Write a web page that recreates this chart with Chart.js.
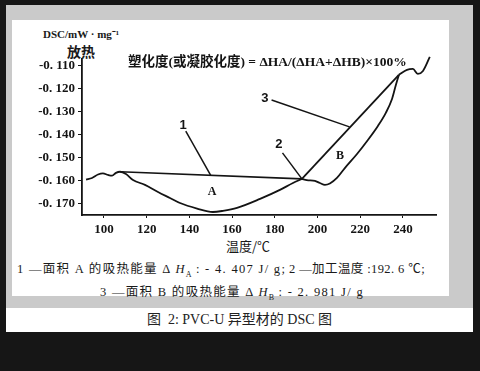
<!DOCTYPE html>
<html>
<head>
<meta charset="utf-8">
<script src="https://cdn.jsdelivr.net/npm/chart.js@4/dist/chart.umd.min.js"></script>
<style>
  html, body { margin: 0; padding: 0; }
  body { width: 480px; height: 371px; background: #161616; position: relative; overflow: hidden;
         font-family: 'Liberation Serif', 'Noto Sans CJK SC', serif; color: #1a1a1a; }
  .frame { position: absolute; left: 6px; top: 5px; width: 467px; height: 303px; background: #cacaca; }
  .inner { position: absolute; left: 12px; top: 20px; width: 437px; height: 276px; background: #fff; }
  .chartbox { position: absolute; left: 12px; top: 20px; width: 437px; height: 276px; }
  .caption { position: absolute; left: 6px; top: 308px; width: 467px; height: 24px; background: #fff;
             text-align: center; font-size: 14px; line-height: 24px; color: #222; }
  .t { position: absolute; white-space: nowrap; }
  .fn { font-size: 12.5px; letter-spacing: 1.3px; }
  sub { font-size: 8px; letter-spacing: 0; }
</style>
</head>
<body>
<div class="frame"></div>
<div class="inner"></div>
<div class="t" style="left:43px; top:26px; font-size:11px; font-weight:bold;">DSC/mW · mg⁻¹</div>
<div class="t" style="left:67px; top:41px; font-size:14px; font-family:'Noto Sans CJK SC'; font-weight:bold;">放热</div>
<div class="t" style="left:226px; top:236px; font-size:13px; font-family:'Noto Sans CJK SC';">温度/℃</div>
<div class="t fn" style="left:17px; top:258px;">1 —面积 A 的吸热能量 Δ <i>H</i><sub>A</sub> : - 4. 407 J/ g;</div>
<div class="t fn" style="left:289px; top:258px; letter-spacing:0.4px;">2 —加工温度 :192. 6 ℃;</div>
<div class="t fn" style="left:100px; top:281px;">3 —面积 B 的吸热能量 Δ <i>H</i><sub>B</sub> : - 2. 981 J/ g</div>
<div class="chartbox"><canvas id="c" width="437" height="276"></canvas></div>
<div class="caption">图&nbsp; 2: PVC-U 异型材的 DSC 图</div>
<script>
// ---- data (temperature °C, DSC mW/mg) ----
const xTicks = [100, 120, 140, 160, 180, 200, 220, 240];
const yTicks = [-0.17, -0.16, -0.15, -0.14, -0.13, -0.12, -0.11];
const yTickLabels = ['-0. 170', '-0. 160', '-0. 150', '-0. 140', '-0. 130', '-0. 120', '-0. 110'];

// DSC curve: from start through trough A up to point 2
const curveAX = [91.6, 94.4, 97.2, 99.5, 101.9, 103.8, 105.6, 107.5, 110.3, 113.6, 119.2, 125.3, 130.9, 135.6, 143.6, 151.0, 155.7, 162.3, 173.1, 182.4, 188.5, 192.7];
const curveAY = [-0.1594, -0.1587, -0.1572, -0.1567, -0.1574, -0.1577, -0.1565, -0.1560, -0.1570, -0.1596, -0.1617, -0.1648, -0.1674, -0.1696, -0.1720, -0.1735, -0.1730, -0.1717, -0.1678, -0.1639, -0.1609, -0.1591];
// straight line from point 2 to upper junction
const line3X = [192.7, 238.1];
const line3Y = [-0.1591, -0.1139];
// baseline of area A
const baseX = [107.5, 192.7];
const baseY = [-0.1560, -0.1591];
// curve bounding area B
const curveBX = [192.7, 195.0, 198.8, 201.1, 203.5, 205.8, 209.1, 212.8, 218.5, 223.6, 228.3, 232.0, 234.9, 236.7, 238.1];
const curveBY = [-0.1591, -0.1596, -0.1600, -0.1609, -0.1617, -0.1611, -0.1587, -0.1544, -0.1483, -0.1422, -0.1361, -0.1304, -0.1244, -0.1183, -0.1139];
// tail after junction
const tailX = [238.1, 241.9, 244.7, 247.0, 249.4, 252.6];
const tailY = [-0.1139, -0.1117, -0.1113, -0.1135, -0.1122, -0.1061];
// leader lines
const lead1X = [138.3, 150.0], lead1Y = [-0.1383, -0.1576];
const lead2X = [183.6, 192.7], lead2Y = [-0.1478, -0.1591];
const lead3X = [178.5, 215.0], lead3Y = [-0.1248, -0.1365];
// labels
const labelText = ['1', '2', '3', 'A', 'B'];
const labelX = [137.0, 181.9, 175.4, 150.6, 210.5];
const labelY = [-0.1357, -0.1443, -0.1243, -0.1648, -0.1491];
const formulaText = '塑化度(或凝胶化度) = ΔHA/(ΔHA+ΔHB)×100%';
const formulaX = 176.5, formulaY = -0.1087;

const pts = (xs, ys) => xs.map((x, i) => ({ x: x, y: ys[i] }));
const ink = '#141414';
function ds(xs, ys, width, smooth) {
  return { data: pts(xs, ys), borderColor: ink, borderWidth: width, pointRadius: 0, fill: false,
           tension: 0, cubicInterpolationMode: smooth ? 'monotone' : 'default', clip: false };
}

const textPlugin = {
  id: 'texts',
  afterDatasetsDraw(chart) {
    const { ctx, scales: { x, y } } = chart;
    ctx.save();
    ctx.fillStyle = ink;
    ctx.textAlign = 'center';
    ctx.textBaseline = 'middle';
    labelText.forEach((t, i) => {
      ctx.font = (t === 'A' || t === 'B') ? 'bold 12px "Liberation Serif"' : 'bold 13px "Liberation Sans"';
      ctx.fillText(t, x.getPixelForValue(labelX[i]), y.getPixelForValue(labelY[i]));
    });
    ctx.font = 'bold 13.5px "Liberation Serif", "Noto Sans CJK SC"';
    ctx.fillText(formulaText, x.getPixelForValue(formulaX), y.getPixelForValue(formulaY));
    ctx.restore();
  }
};

const tickFont = { family: 'Liberation Serif', size: 13, weight: 'bold' };
new Chart(document.getElementById('c'), {
  type: 'line',
  data: {
    datasets: [
      ds(curveAX, curveAY, 1.8, true),
      ds(line3X, line3Y, 1.8, false),
      ds(baseX, baseY, 1.6, false),
      ds(curveBX, curveBY, 1.8, true),
      ds(tailX, tailY, 1.8, true),
      ds(lead1X, lead1Y, 1.5, false),
      ds(lead2X, lead2Y, 1.5, false),
      ds(lead3X, lead3Y, 1.5, false)
    ]
  },
  options: {
    responsive: false,
    animation: false,
    events: [],
    layout: { padding: { left: 10, right: 13, top: 39, bottom: 51 } },
    plugins: { legend: { display: false }, tooltip: { enabled: false } },
    scales: {
      x: {
        type: 'linear', min: 89.7, max: 255.5,
        afterBuildTicks: s => { s.ticks = xTicks.map(v => ({ value: v })); },
        afterFit: s => { s.height = 30; },
        ticks: { color: ink, font: tickFont, padding: 4, maxRotation: 0, autoSkip: false,
                 callback: v => String(v) },
        grid: { drawOnChartArea: false, drawTicks: true, tickLength: 3, color: ink, lineWidth: 1 },
        border: { color: ink, width: 1.8 }
      },
      y: {
        type: 'linear', min: -0.1748, max: -0.1070,
        afterBuildTicks: s => { s.ticks = yTicks.map(v => ({ value: v })); },
        afterFit: s => { s.width = 60; },
        ticks: { color: ink, font: tickFont, padding: 3, autoSkip: false,
                 callback: (v) => { const i = yTicks.findIndex(t => Math.abs(t - v) < 1e-6); return i >= 0 ? yTickLabels[i] : ''; } },
        grid: { drawOnChartArea: false, drawTicks: true, tickLength: 4, color: ink, lineWidth: 1 },
        border: { color: ink, width: 1.8 }
      }
    }
  },
  plugins: [textPlugin]
});
</script>
</body>
</html>
